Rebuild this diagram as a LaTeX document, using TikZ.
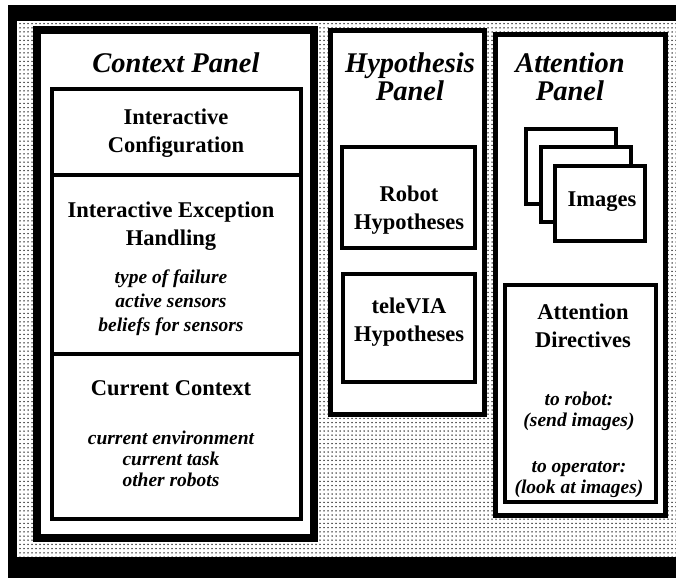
\documentclass[tikz,border=0pt]{standalone}
\usepackage{fontspec}
\setmainfont{Liberation Serif}
\usetikzlibrary{patterns,positioning}
\pgfdeclarepatternformonly{fielddots}{\pgfqpoint{-1pt}{-1pt}}{\pgfqpoint{1pt}{1pt}}{\pgfqpoint{4pt}{4.2pt}}{%
  \pgfpathcircle{\pgfpointorigin}{0.75pt}\pgfusepath{fill}}

\begin{document}
\begin{tikzpicture}
[x=1pt,y=-1pt,
 panel/.style={draw=black,line width=5pt,fill=white,inner sep=0pt},
 ctxpanel/.style={panel,line width=8pt},
 box/.style={draw=black,line width=4pt,fill=white,inner sep=0pt},
 title/.style={font=\fontsize{28.5}{28}\selectfont\bfseries\itshape,align=center,inner sep=0pt},
 head/.style={font=\fontsize{22.5}{28}\selectfont\bfseries,align=center,inner sep=0pt},
 item/.style={font=\fontsize{19.5}{21}\selectfont\bfseries\itshape,align=center,inner sep=0pt},
 itemwide/.style={item,font=\fontsize{19.5}{24}\selectfont\bfseries\itshape}]
\useasboundingbox[fill=white] (0,0) rectangle (676,578);
% frame and dotted field
\fill[black] (8,5) rectangle (676,578);
\fill[white] (17,21) rectangle (676,557);
\fill[pattern=fielddots] (17,21) rectangle (676,557);

% context panel
\node[ctxpanel,minimum width=277pt,minimum height=508pt] (ctx) at (175.5,284) {};
\node[box,minimum width=249pt,minimum height=86pt] (config) at (176.5,132) {};
\node[box,minimum width=249pt,minimum height=179pt] (except) at (176.5,264.5) {};
\node[box,minimum width=249pt,minimum height=165pt] (current) at (176.5,436.5) {};
\node[title] (ctxtitle) at (176,63) {Context Panel};
\node[head] (configtxt) at (176,133) {Interactive\\Configuration};
\node[head] (excepttxt) at (171,226) {Interactive Exception\\Handling};
\node[itemwide] (exceptitems) at (171,303) {type of failure\\active sensors\\beliefs for sensors};
\node[head] (currenttxt) at (171,388) {Current Context};
\node[item] (currentitems) at (171,459) {current environment\\current task\\other robots};

% hypothesis panel
\node[panel,minimum width=154pt,minimum height=383pt] (hyp) at (407,222.5) {};
\node[title] (hyptitle) at (410,77) {Hypothesis\\Panel};
\node[box,minimum width=133pt,minimum height=101pt] (robot) at (408.5,197.5) {};
\node[head] (robottxt) at (409,210) {Robot\\Hypotheses};
\node[box,minimum width=132pt,minimum height=108pt] (televia) at (409,328) {};
\node[head] (televiatxt) at (409,322) {teleVIA\\Hypotheses};

% attention panel
\node[panel,minimum width=170pt,minimum height=481pt] (att) at (580.5,275) {};
\node[title] (atttitle) at (570,77) {Attention\\Panel};
\foreach \dx/\img in {0/back,1/mid,2/front}
  \node[box,minimum width=90pt,minimum height=75pt] (img\img) at ({571+14.5*\dx},{166+18.5*\dx}) {};
\node[head] (imgtxt) at (602,202) {Images};
\node[box,minimum width=151pt,minimum height=217pt] (dir) at (580.5,393.5) {};
\node[head] (dirtxt) at (583,325.5) {Attention\\Directives};
\node[item] (robotdir) at (579,411) {to robot:\\(send images)};
\node[item] (operdir) at (579,480) {to operator:\\(look at images)};
\end{tikzpicture}
\end{document}
